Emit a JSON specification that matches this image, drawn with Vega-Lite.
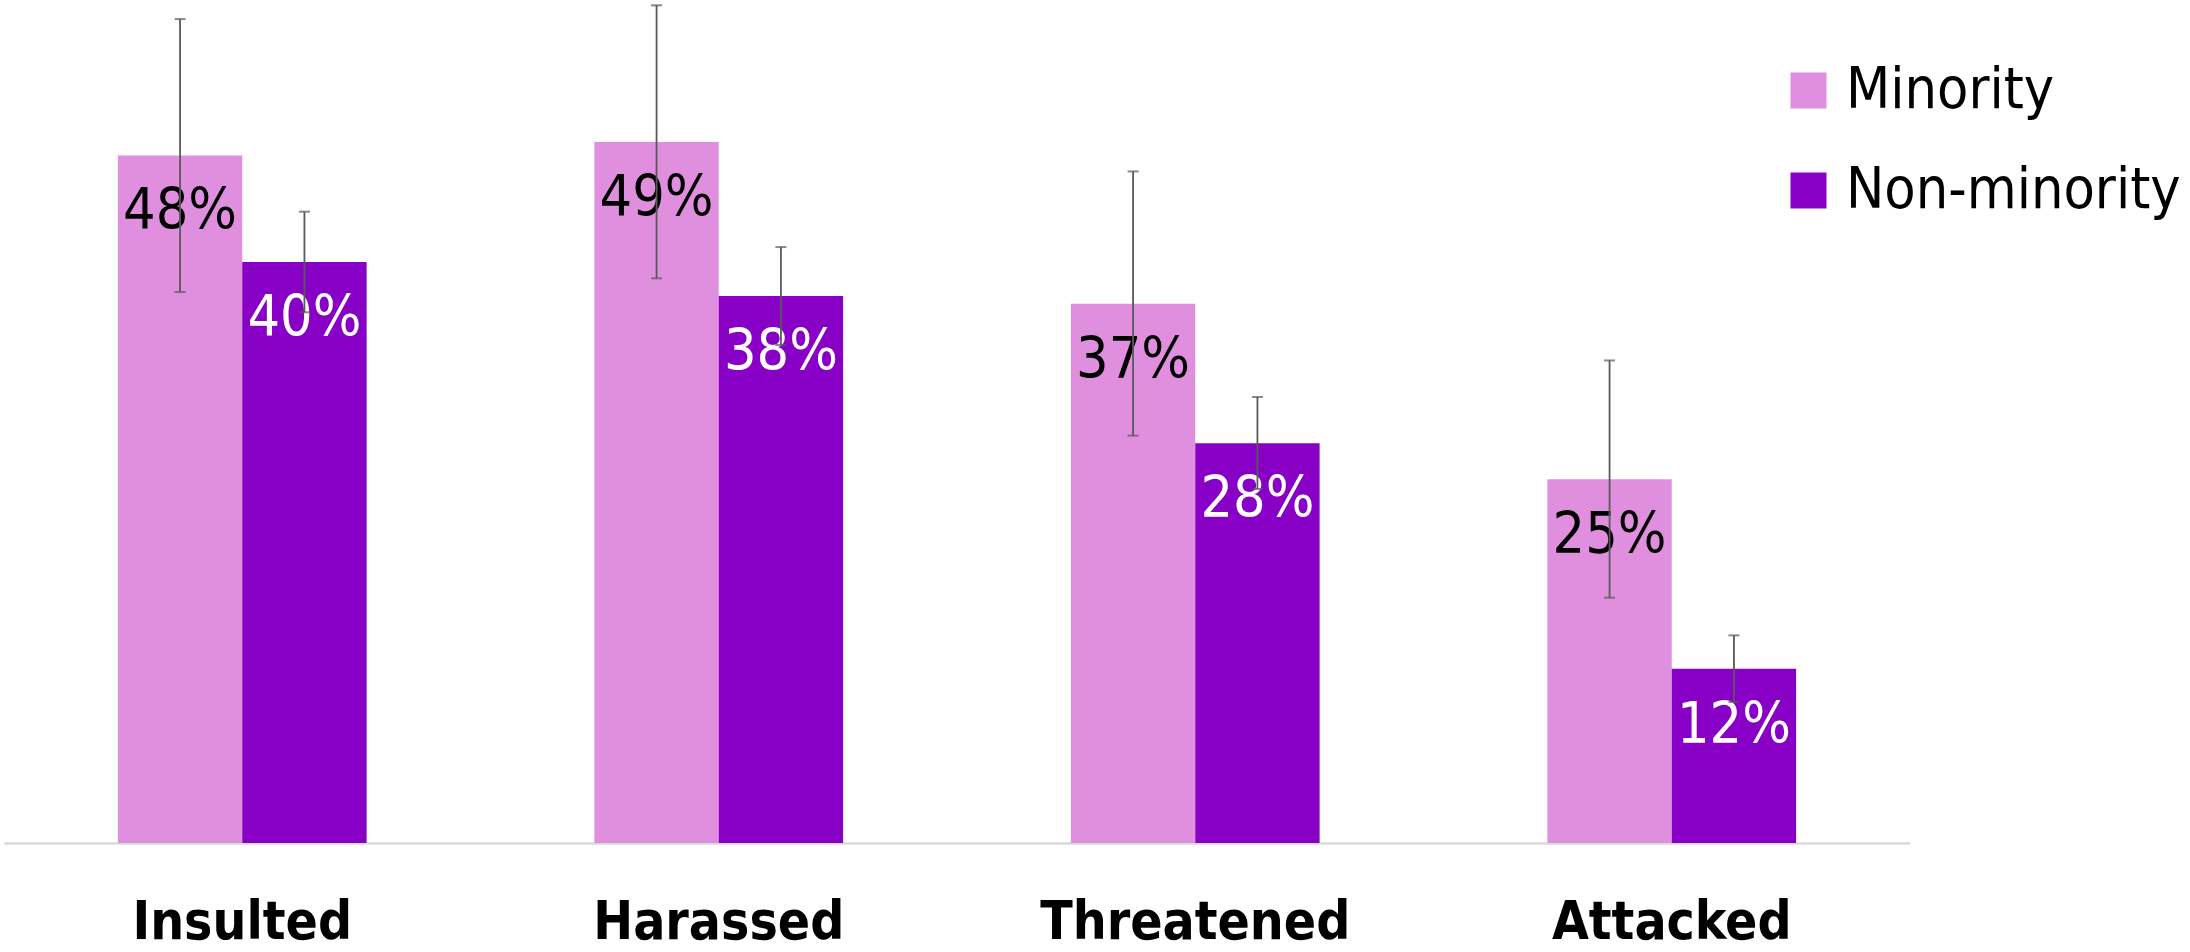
{
  "$schema": "https://vega.github.io/schema/vega-lite/v6.json",
  "width": 1906,
  "height": 843,
  "autosize": {"type": "none"},
  "padding": {"left": 4, "top": 0, "right": 280, "bottom": 109},
  "background": "white",
  "config": {"view": {"stroke": null}, "font": "DejaVu Sans Condensed"},
  "data": {
    "values": [
      {"category": "Insulted", "group": "Minority", "value": 47.65, "lo": 38.18, "hi": 57.1, "label": "48%"},
      {"category": "Insulted", "group": "Non-minority", "value": 40.26, "lo": 36.78, "hi": 43.75, "label": "40%"},
      {"category": "Harassed", "group": "Minority", "value": 48.58, "lo": 39.13, "hi": 58.05, "label": "49%"},
      {"category": "Harassed", "group": "Non-minority", "value": 37.9, "lo": 34.51, "hi": 41.3, "label": "38%"},
      {"category": "Threatened", "group": "Minority", "value": 37.37, "lo": 28.23, "hi": 46.54, "label": "37%"},
      {"category": "Threatened", "group": "Non-minority", "value": 27.7, "lo": 24.53, "hi": 30.91, "label": "28%"},
      {"category": "Attacked", "group": "Minority", "value": 25.2, "lo": 17.0, "hi": 33.44, "label": "25%"},
      {"category": "Attacked", "group": "Non-minority", "value": 12.08, "lo": 9.77, "hi": 14.39, "label": "12%"}
    ]
  },
  "encoding": {
    "x": {
      "field": "category",
      "type": "nominal",
      "sort": ["Insulted", "Harassed", "Threatened", "Attacked"],
      "scale": {"paddingInner": 0.478, "paddingOuter": 0.239},
      "axis": {
        "title": null,
        "labelAngle": 0,
        "labelFont": "DejaVu Sans Condensed",
        "labelFontWeight": "bold",
        "labelFontSize": 53,
        "labelColor": "black",
        "labelPadding": 53,
        "labelLimit": 600,
        "ticks": false,
        "domainColor": "#D9D9D9",
        "domainWidth": 2.5
      }
    },
    "xOffset": {
      "field": "group",
      "type": "nominal",
      "sort": ["Minority", "Non-minority"],
      "scale": {"paddingInner": 0, "paddingOuter": 0}
    }
  },
  "layer": [
    {
      "mark": {"type": "bar"},
      "encoding": {
        "y": {"field": "value", "type": "quantitative", "scale": {"domain": [0, 58.42], "nice": false}, "axis": null},
        "color": {
          "field": "group",
          "type": "nominal",
          "scale": {"domain": ["Minority", "Non-minority"], "range": ["#E08FDE", "#8800C6"]},
          "legend": {
            "orient": "none",
            "legendX": 1776,
            "legendY": 62,
            "title": null,
            "symbolType": "square",
            "symbolSize": 1296,
            "symbolStrokeWidth": 0,
            "labelFontSize": 57,
            "labelFont": "DejaVu Sans Condensed",
            "labelColor": "black",
            "rowPadding": 42,
            "labelOffset": 9,
            "padding": 0,
            "labelLimit": 600
          }
        }
      }
    },
    {
      "mark": {"type": "text", "baseline": "alphabetic", "dy": 74, "fontSize": 57, "font": "DejaVu Sans Condensed"},
      "encoding": {
        "y": {"field": "value", "type": "quantitative"},
        "text": {"field": "label"},
        "color": {"condition": {"test": "datum.group === 'Minority'", "value": "black"}, "value": "white"}
      }
    },
    {
      "mark": {"type": "rule", "color": "#595959", "strokeWidth": 1.8},
      "encoding": {
        "y": {"field": "lo", "type": "quantitative"},
        "y2": {"field": "hi"}
      }
    },
    {
      "mark": {"type": "tick", "color": "#595959", "thickness": 2, "size": 11},
      "encoding": {"y": {"field": "lo", "type": "quantitative"}}
    },
    {
      "mark": {"type": "tick", "color": "#595959", "thickness": 2, "size": 11},
      "encoding": {"y": {"field": "hi", "type": "quantitative"}}
    }
  ]
}
